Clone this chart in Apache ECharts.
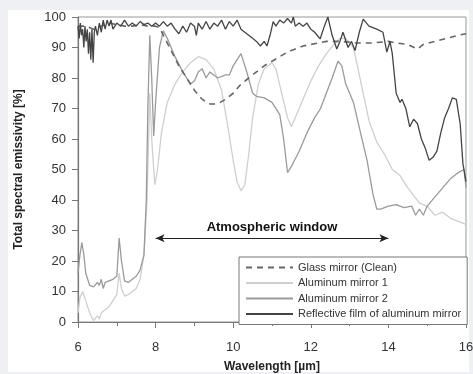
<!DOCTYPE html>
<html>
<head>
<meta charset="utf-8">
<script src="https://cdn.jsdelivr.net/npm/echarts@6/dist/echarts.min.js"></script>
<style>
  html,body{margin:0;padding:0;background:#eef0f3;}
  #main{width:473px;height:374px;}
</style>
</head>
<body>
<div id="main"></div>
<script>
// 数据 [波长 um, 发射率 %]
var seriesNames = ["Glass mirror (Clean)", "Aluminum mirror 1", "Aluminum mirror 2", "Reflective film of aluminum mirror"];

var glassMirror = [
  [6.0,97],[6.2,97],[6.4,96],[6.6,97],[6.8,98],[7.0,97.5],[7.2,97],[7.4,97],[7.6,97.5],[7.8,97],
  [8.0,97],[8.1,96.5],[8.2,94],[8.4,89],[8.6,84],[8.8,80],[9.0,76],[9.2,73],[9.4,71.5],[9.6,71.5],
  [9.8,73],[10.0,75],[10.2,78],[10.4,80],[10.6,82],[10.8,84],[11.0,85.5],[11.2,87],[11.4,88.5],
  [11.6,89.5],[11.8,90.5],[12.0,91],[12.4,92],[12.8,92],[13.2,91.5],[13.6,91.5],[14.0,92],
  [14.2,91.5],[14.5,91],[14.75,89.5],[14.9,91],[15.2,92],[15.5,93],[15.8,94],[16.0,94.5]
];

var aluminum1 = [
  [6.0,3],[6.05,8],[6.12,10],[6.2,7],[6.3,3],[6.4,0.5],[6.5,2],[6.55,1],[6.6,3],[6.7,4],[6.8,5],
  [6.9,7],[7.0,9],[7.06,16],[7.12,11],[7.2,8.5],[7.3,9],[7.4,10],[7.5,11],[7.6,14],[7.7,22],
  [7.78,40],[7.85,75],[7.9,60],[7.98,45],[8.05,50],[8.15,62],[8.3,72],[8.5,78],[8.7,82],[8.9,85],
  [9.1,87],[9.3,86],[9.5,83],[9.7,76],[9.85,65],[10.0,53],[10.1,46],[10.2,43],[10.3,45],[10.4,55],
  [10.5,67],[10.65,78],[10.8,83],[11.0,85],[11.1,83],[11.25,75],[11.4,67],[11.5,64],[11.6,67],
  [11.8,73],[12.0,79],[12.2,84],[12.4,88],[12.6,91],[12.75,93],[12.9,93],[13.1,90],[13.3,78],
  [13.5,66],[13.7,59],[13.9,55],[14.1,50],[14.3,48],[14.5,44],[14.8,39],[15.0,38],[15.2,35],
  [15.4,36],[15.6,34],[15.8,33],[16.0,32]
];

var aluminum2 = [
  [6.0,16],[6.05,22],[6.1,26],[6.15,22],[6.2,16],[6.3,12],[6.4,11.5],[6.5,13],[6.55,12],[6.6,14],
  [6.65,11],[6.7,13],[6.8,13.5],[6.9,14],[7.0,15],[7.06,27.5],[7.12,20],[7.2,13.5],[7.3,13],
  [7.4,14],[7.5,15],[7.6,17],[7.7,22],[7.76,40],[7.8,70],[7.85,94],[7.9,80],[7.95,61],[8.0,72],
  [8.1,90],[8.2,95.5],[8.3,93],[8.5,87],[8.7,82],[8.9,78],[9.0,79],[9.1,82],[9.2,83],[9.3,80],
  [9.4,82],[9.5,81],[9.6,80],[9.8,81],[9.9,81],[10.0,84],[10.2,88],[10.35,82],[10.5,75],[10.6,74],
  [10.8,73.5],[11.0,72],[11.2,68],[11.3,60],[11.4,49],[11.5,51],[11.7,56],[11.9,62],[12.1,67],
  [12.25,70],[12.4,75],[12.55,80],[12.7,85.5],[12.8,84],[12.9,78],[13.1,72],[13.3,61],[13.45,53],
  [13.6,42],[13.7,37],[13.8,37],[14.0,38],[14.2,38.5],[14.4,37.5],[14.6,38],[14.7,35],[14.8,37],
  [14.9,35],[15.0,38],[15.2,41],[15.4,44],[15.6,47],[15.8,49],[15.95,50],[16.0,44]
];

var reflectiveFilm = [
  [6.0,97],[6.03,93],[6.06,98],[6.09,94],[6.12,96],[6.15,90],[6.18,97],[6.21,92],[6.24,96],
  [6.27,88],[6.3,95],[6.33,86],[6.36,96],[6.39,85],[6.42,95],[6.45,97],[6.5,94],[6.55,98],
  [6.6,95],[6.65,99],[6.7,96],[6.75,99],[6.8,97],[6.85,99],[6.9,96],[7.0,98],[7.1,97],[7.2,99],
  [7.3,97],[7.4,98],[7.5,97],[7.6,98.5],[7.7,97.5],[7.8,98],[7.9,97],[8.0,98],[8.1,97],[8.2,98.5],
  [8.3,97],[8.4,98],[8.5,96],[8.6,94.5],[8.7,97],[8.8,95],[8.9,98],[9.0,97],[9.05,94],[9.1,98],
  [9.2,96],[9.3,98.5],[9.4,96],[9.5,98],[9.6,97],[9.7,99],[9.8,96],[9.9,98.5],[10.0,97],[10.1,99],
  [10.2,96],[10.3,95],[10.4,94],[10.5,93],[10.6,92],[10.7,90.5],[10.8,92],[10.87,90.5],[10.95,94],
  [11.03,98.5],[11.1,97],[11.2,99],[11.3,98],[11.4,99.5],[11.5,98],[11.55,100],[11.6,97],[11.7,98],
  [11.8,97],[11.9,98],[12.0,96],[12.1,95],[12.24,92.8],[12.35,97],[12.44,100],[12.55,94],
  [12.67,89.5],[12.75,92],[12.83,95],[12.96,90],[13.05,92],[13.14,89],[13.25,95],[13.35,99.3],
  [13.5,97],[13.7,96],[13.86,95],[13.96,88.5],[14.04,92],[14.1,88],[14.2,75],[14.3,72],[14.35,73],
  [14.45,70],[14.55,64],[14.65,66.5],[14.75,65],[14.85,60],[14.95,57],[15.05,53],[15.15,54],
  [15.25,56],[15.35,62],[15.45,67],[15.55,70],[15.65,73.5],[15.75,73],[15.85,65],[15.92,52],[16.0,46]
];

// 大气窗口 箭头
var windowRange = [8, 14];
var windowLevel = 27.5;

var myChart = echarts.init(document.getElementById('main'));
var font = 'Arial, "Liberation Sans", sans-serif';

var option = {
  backgroundColor: '#eef0f3',
  animation: false,
  graphic: [{
    type: 'rect',
    shape: {x: 8, y: 10, width: 461, height: 362},
    style: {fill: '#ffffff'},
    z: -10
  }],
  grid: {
    left: 78, right: 7, top: 17, bottom: 52,
    outerBoundsMode: 'none', containLabel: false,
    show: true, borderColor: '#999', borderWidth: 1, backgroundColor: '#fff'
  },
  legend: {
    orient: 'vertical',
    left: 239, top: 257,
    itemWidth: 47, itemHeight: 10, itemGap: 4.5,
    padding: [5, 6, 5, 6],
    backgroundColor: '#fff',
    borderColor: '#777', borderWidth: 1,
    itemStyle: {opacity: 0},
    textStyle: {fontFamily: font, fontSize: 11, color: '#333'},
    data: seriesNames
  },
  xAxis: {
    type: 'value', min: 6, max: 16, interval: 2,
    name: 'Wavelength [µm]', nameLocation: 'middle', nameGap: 39,
    nameTextStyle: {fontFamily: font, fontSize: 12, fontWeight: 'bold', color: '#222'},
    axisLine: {lineStyle: {color: '#777', width: 1.2}},
    axisTick: {length: 6, lineStyle: {color: '#777'}},
    minorTick: {show: true, splitNumber: 2, length: 4, lineStyle: {color: '#777'}},
    splitLine: {show: false},
    axisLabel: {fontFamily: font, fontSize: 13, color: '#333', margin: 19}
  },
  yAxis: {
    type: 'value', min: 0, max: 100, interval: 10,
    name: 'Total spectral emissivity [%]', nameLocation: 'middle', nameGap: 53,
    nameTextStyle: {fontFamily: font, fontSize: 12, fontWeight: 'bold', color: '#222'},
    axisLine: {show: true, lineStyle: {color: '#777', width: 1.2}},
    axisTick: {show: true, length: 6, lineStyle: {color: '#777'}},
    splitLine: {show: false},
    axisLabel: {fontFamily: font, fontSize: 13, color: '#333', margin: 12}
  },
  series: [
    {
      name: seriesNames[0], type: 'line', data: glassMirror, symbol: 'none',
      lineStyle: {color: '#666', width: 1.6, type: [6, 5]}, itemStyle: {color: '#666'}, z: 4,
      markLine: {
        silent: true,
        symbol: ['arrow', 'arrow'], symbolSize: [6, 9],
        lineStyle: {color: '#222', width: 1.2, type: 'solid'},
        label: {
          show: true, position: 'middle', formatter: 'Atmospheric window', distance: 4,
          fontFamily: font, fontSize: 13, fontWeight: 'bold', color: '#111'
        },
        data: [[{coord: [windowRange[0], windowLevel]}, {coord: [windowRange[1], windowLevel]}]]
      }
    },
    {
      name: seriesNames[1], type: 'line', data: aluminum1, symbol: 'none',
      lineStyle: {color: '#cfcfcf', width: 1.3}, itemStyle: {color: '#cfcfcf'}, z: 2
    },
    {
      name: seriesNames[2], type: 'line', data: aluminum2, symbol: 'none',
      lineStyle: {color: '#9a9a9a', width: 1.3}, itemStyle: {color: '#9a9a9a'}, z: 3
    },
    {
      name: seriesNames[3], type: 'line', data: reflectiveFilm, symbol: 'none',
      lineStyle: {color: '#444', width: 1.3}, itemStyle: {color: '#444'}, z: 5
    }
  ]
};
myChart.setOption(option);
</script>
</body>
</html>
